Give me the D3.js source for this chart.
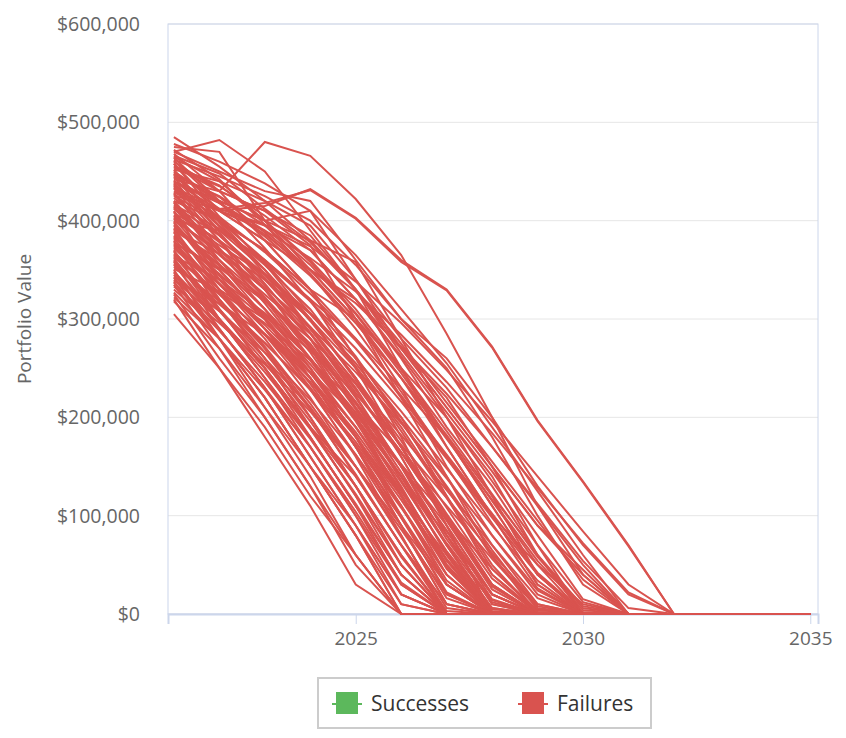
<!DOCTYPE html>
<html><head><meta charset="utf-8">
<script src="https://cdn.jsdelivr.net/npm/d3@7"></script>
<style>body{margin:0;background:#fff;font-family:"Open Sans",Lato,sans-serif}</style>
</head><body><svg id="c" width="846" height="738"></svg>
<script>
const startYear = 2021;
const yTicks = [0,100000,200000,300000,400000,500000,600000];
const xTicks = [2025,2030,2035];
const seriesNames = ["Successes","Failures"];
const successes = [];
// failure paths, values in thousands of dollars, yearly from 2021
const failures = [
[460,430,480,466,422,365,285,200,110,40,0],
[440,410,415,432,403,360,330,272,197,135,70,0],
[445,412,418,431,402,358,329,271,196,134,69,0],
[485,455,420,380,358,280,200,120,40,0],
[470,482,450,390,330,250,170,100,30,0],
[475,470,400,350,300,230,150,80,20,0],
[465,440,400,410,340,270,210,150,90,40,0],
[455,430,380,330,280,220,160,100,50,10,0],
[450,420,400,360,310,250,180,110,40,0],
[448,400,370,330,260,180,90,20,0],
[442,430,410,375,300,220,140,60,0],
[438,390,350,300,240,160,80,10,0],
[435,400,360,320,250,170,90,0],
[430,410,380,330,260,200,120,40,0],
[428,380,330,280,220,150,70,0],
[425,400,350,290,230,160,80,10,0],
[420,370,340,300,240,170,100,30,0],
[418,360,320,260,200,120,40,0],
[415,385,345,300,250,200,140,70,10,0],
[412,370,330,270,200,130,50,0],
[410,340,300,250,180,100,20,0],
[408,380,320,270,210,140,60,0],
[405,360,310,250,180,110,30,0],
[402,350,300,240,170,90,10,0],
[400,370,330,280,210,150,90,20,0],
[398,340,290,230,160,80,0],
[395,350,300,240,180,120,60,0],
[392,330,270,210,140,70,0],
[390,360,310,260,200,140,80,20,0],
[388,320,260,200,130,50,0],
[385,340,290,240,170,100,30,0],
[382,330,300,250,190,120,50,0],
[380,310,250,180,110,40,0],
[378,350,300,240,170,90,10,0],
[375,320,270,200,130,60,0],
[372,330,280,220,150,80,0],
[370,300,240,180,110,30,0],
[368,320,260,190,120,50,0],
[365,310,260,210,150,90,30,0],
[362,300,240,170,100,20,0],
[360,310,250,190,120,40,0],
[358,290,230,160,90,10,0],
[355,300,250,190,130,60,0],
[350,280,220,150,80,0],
[348,300,240,180,110,40,0],
[345,290,230,160,90,20,0],
[342,280,210,140,60,0],
[340,300,250,190,140,70,10,0],
[338,280,220,150,80,0],
[335,270,200,130,50,0],
[330,290,230,170,100,30,0],
[325,260,200,130,60,0],
[322,280,220,150,90,20,0],
[320,250,180,110,30,0],
[305,250,190,120,60,0],
[318,270,210,150,80,10,0],
[400,390,360,320,280,230,180,110,40,0],
[420,400,370,330,300,250,200,140,60,0],
[432,410,390,350,320,270,210,150,70,0],
[462,445,425,400,355,300,250,180,100,30,0],
[452,440,420,395,340,280,230,170,110,50,0],
[470,450,430,420,360,300,260,200,130,70,20,0],
[440,420,400,380,330,270,220,150,90,45,0],
[426,410,395,370,320,260,190,130,60,0],
[468,430,410,385,330,265,205,145,80,15,0],
[458,410,380,350,300,240,170,100,30,0],
[444,395,355,310,250,190,120,50,0],
[436,385,340,290,235,170,100,30,0],
[414,365,325,285,225,165,95,25,0],
[396,355,320,275,215,150,85,15,0],
[384,345,305,260,205,140,70,5,0],
[376,335,290,245,190,125,55,0],
[366,325,285,240,185,120,50,0],
[356,315,275,230,175,110,40,0],
[406,375,345,305,255,195,130,65,5,0],
[446,425,395,355,305,245,180,115,50,0],
[454,435,405,370,320,262,200,135,70,12,0],
[466,448,412,378,330,275,215,155,95,35,0],
[478,460,438,410,365,310,255,190,125,60,0],
[464,420,372,318,262,196,128,58,8,0],
[458,404,356,300,238,170,96,28,0],
[452,398,346,286,222,150,76,14,0],
[447,402,358,306,252,186,118,46,4,0],
[441,388,336,280,214,144,70,6,0],
[437,394,350,298,240,176,108,40,2,0],
[433,380,330,272,208,136,62,3,0],
[427,372,322,266,200,128,54,0],
[423,386,342,292,234,170,102,36,1,0],
[419,368,316,258,196,122,46,0],
[413,378,334,286,228,164,96,30,0],
[409,356,302,246,182,110,34,0],
[403,366,322,272,216,152,84,20,0],
[399,344,290,234,170,98,22,0],
[393,354,310,260,204,140,72,12,0],
[389,336,284,228,162,90,16,0],
[383,346,304,254,198,134,64,6,0],
[379,326,272,214,150,78,6,0],
[373,336,294,246,190,126,56,2,0],
[369,318,266,208,142,70,3,0],
[363,326,284,236,180,116,48,0],
[359,308,256,196,130,58,0],
[353,318,276,228,172,108,40,0],
[347,298,246,188,122,50,0],
[343,308,266,218,162,98,30,0],
[337,288,236,178,112,40,0],
[333,296,254,206,150,86,20,0],
[327,280,228,170,104,32,0],
[472,442,396,346,290,226,160,92,26,0],
[456,436,400,358,306,248,186,122,58,6,0],
[448,424,388,346,296,240,178,116,54,4,0],
[439,418,384,344,296,240,182,120,60,8,0],
[429,404,368,326,278,222,162,102,42,2,0],
[416,392,358,318,270,216,158,98,40,0],
[404,380,346,306,260,206,148,90,34,0],
[391,366,332,292,246,194,138,80,24,0],
[377,352,318,280,234,182,126,70,16,0],
[364,340,306,268,224,172,118,62,10,0],
[351,328,296,258,214,164,110,56,6,0],
[339,316,284,246,202,152,98,46,2,0],
[461,418,390,362,328,284,236,184,128,72,22,0],
[434,412,396,374,338,296,248,196,140,84,30,0],
[450,418,386,350,316,272,224,170,112,54,6,0]
];
const svg = d3.select("#c");
const m = {l:168,r:818,t:24,b:614};
const x = d3.scaleLinear().domain([2020.87,2035.17]).range([m.l,m.r]);
const y = d3.scaleLinear().domain([0,600000]).range([m.b,m.t]);
svg.append("g").selectAll("line").data(yTicks).join("line")
 .attr("x1",m.l).attr("x2",m.r).attr("y1",d=>y(d)).attr("y2",d=>y(d))
 .attr("stroke","#e6e6e6").attr("stroke-width",1);
svg.append("rect").attr("x",m.l).attr("y",m.t).attr("width",m.r-m.l).attr("height",m.b-m.t)
 .attr("fill","none").attr("stroke","#ccd6eb").attr("stroke-width",1);
svg.append("g").selectAll("text").data(yTicks).join("text")
 .attr("x",140).attr("y",d=>y(d)+7).attr("text-anchor","end")
 .attr("font-size",19.5).attr("fill","#666").text(d=>d3.format("$,")(d));
svg.append("text").attr("transform","translate(31,319) rotate(-90)").attr("text-anchor","middle")
 .attr("font-size",19).attr("fill","#666").text("Portfolio Value");
const gx = svg.append("g").attr("transform",`translate(0,${m.b})`)
 .call(d3.axisBottom(x).tickValues(xTicks).tickFormat(d3.format("d")).tickSize(10).tickPadding(8));
gx.select(".domain").attr("stroke","#ccd6eb").attr("stroke-width",2);
gx.selectAll(".tick line").attr("stroke","#ccd6eb");
gx.selectAll("text").attr("font-size",19).attr("fill","#666").attr("font-family","'Open Sans',sans-serif");
const line = d3.line().x((d,i)=>x(startYear+i)).y(d=>y(d*1000));
const lg = svg.append("g");
failures.forEach(f=>{
  const vals = f.slice();
  while(vals.length < 2035-startYear+1) vals.push(0);
  lg.append("path").attr("d",line(vals)).attr("fill","none")
    .attr("stroke","#d9534f").attr("stroke-width",2);
});
svg.append("rect").attr("x",318).attr("y",678).attr("width",333).attr("height",50)
 .attr("fill","#fff").attr("stroke","#ccc").attr("stroke-width",2);
const cols = ["#5cb85c","#d9534f"], lx=[332,518];
seriesNames.forEach((n,i)=>{
  svg.append("line").attr("x1",lx[i]).attr("x2",lx[i]+30).attr("y1",704).attr("y2",704).attr("stroke",cols[i]).attr("stroke-width",2);
  svg.append("rect").attr("x",lx[i]+4).attr("y",692).attr("width",22).attr("height",22).attr("fill",cols[i]);
  svg.append("text").attr("x",lx[i]+39).attr("y",711).attr("font-size",21).attr("fill","#333").text(n);
});
</script></body></html>
